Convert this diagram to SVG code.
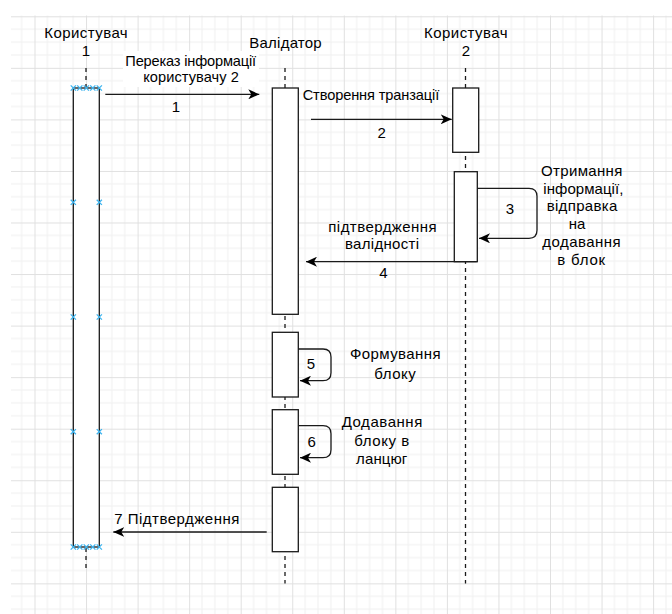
<svg xmlns="http://www.w3.org/2000/svg" width="672" height="614" viewBox="0 0 672 614">
<style>
text{font-family:"Liberation Sans",Arial,sans-serif;font-size:15px;fill:#000}
.s{font-size:14.6px}
.c{text-anchor:middle}
.box{fill:#fff;stroke:#1a1a1a;stroke-width:1.3}
.life{stroke:#1a1a1a;stroke-width:1.3;stroke-dasharray:4 4;fill:none}
.msg{stroke:#1a1a1a;stroke-width:1.3;fill:none;marker-end:url(#arr)}
.x{stroke:#3db4ef;stroke-width:1.3;fill:none}
</style>
<defs>
<marker id="arr" markerUnits="userSpaceOnUse" viewBox="0 0 11 10" refX="11" refY="5" markerWidth="11" markerHeight="10" orient="auto">
<path d="M0,0 L11,5 L0,10 L3,5 Z" fill="#000"/>
</marker>
<pattern id="grid" patternUnits="userSpaceOnUse" x="34.5" y="16.3" width="51.55" height="51.55">
<g fill="#efefef">
<rect x="12.39" y="0" width="1" height="51.55"/>
<rect x="25.28" y="0" width="1" height="51.55"/>
<rect x="38.16" y="0" width="1" height="51.55"/>
<rect x="0" y="12.39" width="51.55" height="1"/>
<rect x="0" y="25.28" width="51.55" height="1"/>
<rect x="0" y="38.16" width="51.55" height="1"/>
</g>
<g fill="#e0e0e0">
<rect x="0" y="0" width="1" height="51.55"/>
<rect x="0" y="0" width="51.55" height="1"/>
</g>
</pattern>
<path id="cr" class="x" d="M-2.6,-2.6 L2.6,2.6 M-2.6,2.6 L2.6,-2.6"/>
</defs>
<rect width="672" height="614" fill="#fff"/>
<rect x="11" y="15.5" width="661" height="598.5" fill="url(#grid)"/>

<g id="lifelines">
<line class="life" x1="86" y1="68" x2="86" y2="571"/>
<line class="life" x1="285" y1="68" x2="285" y2="583.5"/>
<line class="life" x1="465.5" y1="68" x2="465.5" y2="583.5"/>
</g>

<g id="user1">
<text class="c" x="86" y="38.3" textLength="83.4" lengthAdjust="spacing">Користувач</text>
<text class="c" x="86" y="56">1</text>
<rect class="box" x="73.3" y="88" width="26" height="459"/>
<g>
<use href="#cr" x="73.3" y="88"/><use href="#cr" x="79.8" y="88"/><use href="#cr" x="86.3" y="88"/><use href="#cr" x="92.8" y="88"/><use href="#cr" x="99.3" y="88"/>
<use href="#cr" x="73.3" y="547"/><use href="#cr" x="79.8" y="547"/><use href="#cr" x="86.3" y="547"/><use href="#cr" x="92.8" y="547"/><use href="#cr" x="99.3" y="547"/>
<use href="#cr" x="73.3" y="202.3"/><use href="#cr" x="99.3" y="202.3"/>
<use href="#cr" x="73.3" y="317"/><use href="#cr" x="99.3" y="317"/>
<use href="#cr" x="73.3" y="431.7"/><use href="#cr" x="99.3" y="431.7"/>
</g>
</g>

<g id="validator">
<text class="c" x="285.5" y="47.7" textLength="72.4" lengthAdjust="spacing">Валідатор</text>
<rect class="box" x="272.3" y="88" width="26" height="226.3"/>
<rect class="box" x="272.3" y="332.3" width="26" height="64.7"/>
<rect class="box" x="272.3" y="409.7" width="26" height="64.6"/>
<rect class="box" x="272.3" y="487.3" width="26" height="64.4"/>
</g>

<g id="user2">
<text class="c" x="465.8" y="38.3" textLength="83.7" lengthAdjust="spacing">Користувач</text>
<text class="c" x="465.8" y="56">2</text>
<rect class="box" x="452.7" y="88" width="26" height="64.3"/>
<rect class="box" x="454.3" y="171.7" width="23" height="90"/>
</g>

<g id="connectors">
<path class="msg" d="M105.3,94.3 H259.3"/>
<path class="msg" d="M311,119.3 H451.7"/>
<path class="msg" d="M477.3,188.3 H529 Q537,188.3 537,196.3 V230.3 Q537,238.3 529,238.3 H479"/>
<path class="msg" d="M476.7,261.7 H306"/>
<path class="msg" d="M298.3,349 H323 Q331,349 331,357 V372.7 Q331,380.7 323,380.7 H300"/>
<path class="msg" d="M298.3,425.7 H323 Q331,425.7 331,433.7 V449.7 Q331,457.7 323,457.7 H300"/>
<path class="msg" d="M266.7,532 H113.3"/>
</g>

<g id="labels">
<rect x="123" y="51" width="136" height="36" fill="#fff"/>
<text class="c s" x="190.7" y="65.5" textLength="130.7" lengthAdjust="spacing">Переказ інформації</text>
<text class="c s" x="191" y="82" textLength="95.7" lengthAdjust="spacing">користувачу 2</text>
<text class="c" x="176" y="111.7">1</text>
<text class="s" x="302.7" y="100" textLength="136.6" lengthAdjust="spacing">Створення транзації</text>
<text class="c" x="381.7" y="138">2</text>
<text class="c" x="510" y="214">3</text>
<text class="c" x="581.7" y="175.7" textLength="81.3" lengthAdjust="spacing">Отримання</text>
<text class="c" x="583.3" y="193.5" textLength="80" lengthAdjust="spacing">інформації,</text>
<text class="c" x="582" y="211.3" textLength="70.7" lengthAdjust="spacing">відправка</text>
<text class="c" x="577" y="229.1">на</text>
<text class="c" x="581.5" y="246.9" textLength="78.4" lengthAdjust="spacing">додавання</text>
<text class="c" x="581.2" y="264.7" textLength="47.7" lengthAdjust="spacing">в блок</text>
<text class="c" x="382.5" y="231.5" textLength="108.4" lengthAdjust="spacing">підтвердження</text>
<text class="c" x="382" y="249.3" textLength="74" lengthAdjust="spacing">валідності</text>
<text class="c" x="383.3" y="278">4</text>
<text class="c" x="311" y="369.3">5</text>
<text class="c" x="395.3" y="359.3" textLength="90.7" lengthAdjust="spacing">Формування</text>
<text class="c" x="395" y="379" textLength="41.3" lengthAdjust="spacing">блоку</text>
<text class="c" x="311.7" y="446.5">6</text>
<text class="c" x="382" y="427.3" textLength="80.6" lengthAdjust="spacing">Додавання</text>
<text class="c" x="381.8" y="445.8" textLength="55" lengthAdjust="spacing">блоку в</text>
<text class="c" x="381.7" y="464.3" textLength="51.3" lengthAdjust="spacing">ланцюг</text>
<text x="114.3" y="524" textLength="125" lengthAdjust="spacing">7 Підтвердження</text>
</g>
</svg>
